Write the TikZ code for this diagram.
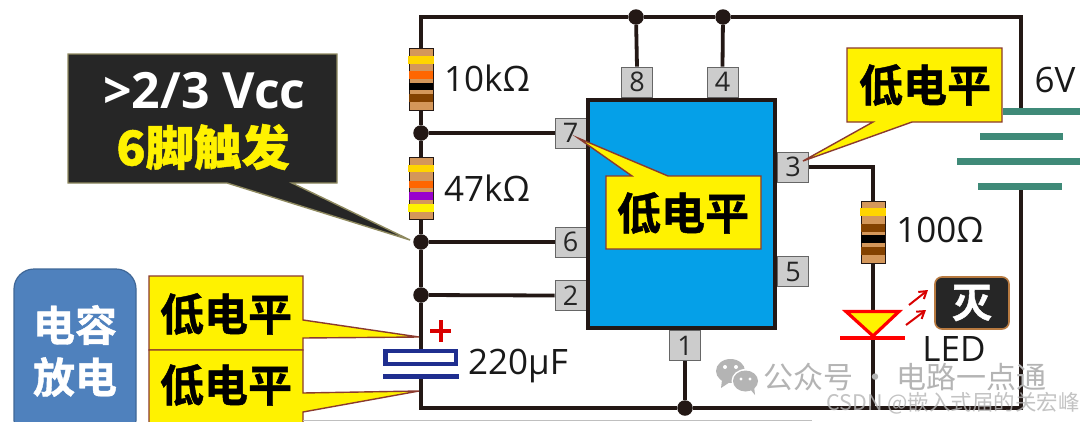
\documentclass[tikz,border=0pt]{standalone}
\usepackage{fontspec}
\setmainfont{Open Sans}
\newfontfamily\cjk{Noto Sans CJK SC}
\newfontfamily\cjkblack{Noto Sans CJK SC Bold}[FakeBold=1]
\newcommand{\fsz}[1]{\fontsize{#1}{#1}\selectfont}
\definecolor{wirec}{HTML}{231815}
\definecolor{icblue}{HTML}{05A0E8}
\definecolor{pingray}{HTML}{CCCCCC}
\definecolor{resbody}{HTML}{D4975A}
\definecolor{resgold}{HTML}{FFD500}
\definecolor{resorange}{HTML}{FF6600}
\definecolor{resbrown}{HTML}{844200}
\definecolor{respurple}{HTML}{9900CC}
\definecolor{calloutedge}{HTML}{8B3A2E}
\definecolor{darkfill}{HTML}{262626}
\definecolor{khaki}{HTML}{8F8A60}
\definecolor{battc}{HTML}{3F8A78}
\definecolor{capblue}{HTML}{1F2E8F}
\definecolor{boxblue}{HTML}{4F81BD}
\definecolor{lampedge}{HTML}{B87A40}
\definecolor{marka}{HTML}{B4B4B4}
\usetikzlibrary{arrows.meta}
\tikzset{
  wire/.style={draw=wirec,line width=3.8pt},
  junction/.style={circle,fill=wirec,inner sep=0pt,minimum size=15.5pt},
  pinbox/.style={draw=black!60,fill=pingray,line width=0.8pt,minimum width=31pt,minimum height=30pt,inner sep=0pt,font=\fsz{27},text=black!85},
  resistor/.style={draw=wirec,fill=resbody,line width=1pt,minimum width=24pt,minimum height=62pt,inner sep=0pt},
  valuetext/.style={font=\fsz{35},text=black!90,inner sep=0pt},
  yellowcall/.style={draw=calloutedge,fill=yellow,line width=1.4pt,line join=miter},
  lowtext/.style={font=\cjkblack\fsz{44},text=black,inner sep=0pt},
  ledarrow/.style={draw=red!85!black,line width=2pt,-{Straight Barb[length=7pt,width=9pt]}},
}
\begin{document}
\begin{tikzpicture}[x=1pt,y=-1pt]
\useasboundingbox (0,0) rectangle (1080,421);
\clip (0,0) rectangle (1080,421);
\fill[white] (0,0) rectangle (1080,421);
% coordinates
\coordinate (tl) at (421,17);
\coordinate (tr) at (1021,17);
\coordinate (bl) at (421,408);
\coordinate (br) at (1021,408);
\coordinate (battT) at (1021,111);
\coordinate (battB) at (1021,186);
\coordinate (corner3) at (873,167);
\coordinate (capT) at (421,349);
\coordinate (capB) at (421,379);
% components that carry connectors
\node[resistor] (r1) at (421,79) {};
\node[resistor] (r2) at (421,188.5) {};
\node[resistor] (r3) at (873,232) {};
\node[junction] (j7) at (421,133) {};
\node[junction] (j6) at (421,242) {};
\node[junction] (j2) at (421,295) {};
\node[junction] (j8) at (636,17) {};
\node[junction] (j4) at (723,17) {};
\node[junction] (j1) at (685,408) {};
\node[pinbox] (p7) at (570.5,133) {7};
\node[pinbox] (p6) at (570.5,242) {6};
\node[pinbox] (p2) at (570.5,295.5) {2};
\node[pinbox] (p8) at (637,82) {8};
\node[pinbox] (p4) at (722.5,82) {4};
\node[pinbox] (p1) at (685,345.5) {1};
\node[pinbox] (p3) at (793,167) {3};
\node[pinbox] (p5) at (793,271.5) {5};
\coordinate (ledbar) at (873,338);
\coordinate (ledtop) at (873,311);
\coordinate (ledfoot) at (873,408);
% wires
\draw[wire] (r1.north) -- (tl) -- (j8) -- (j4) -- (tr) -- (battT);
\draw[wire] (r1.south) -- (j7) -- (r2.north);
\draw[wire] (r2.south) -- (j6) -- (j2) -- (capT);
\draw[wire] (capB) -- (bl) -- (j1) -- (br) -- (battB);
\draw[wire] (j7) -- (p7.west);
\draw[wire] (j6) -- (p6.west);
\draw[wire] (j2) -- (p2.west);
\draw[wire] (j8) -- (p8.north);
\draw[wire] (j4) -- (p4.north);
\draw[wire] (j1) -- (p1.south);
\draw[wire] (p3.east) -- (corner3) -- (r3.north);
\draw[wire] (r3.south) -- (ledtop);
\draw[wire] (ledbar) -- (ledfoot);
% resistor bands
\fill[resgold] (408,56) rectangle (434,63.5);
\fill[resorange] (409,71) rectangle (433,79);
\fill[black] (409,83) rectangle (433,90);
\fill[resbrown] (409,94) rectangle (433,102);
\fill[resgold] (408,165) rectangle (434,172);
\fill[resorange] (409,181) rectangle (433,188);
\fill[respurple] (409,192) rectangle (433,200);
\fill[yellow] (408,204) rectangle (434,212);
\fill[resgold] (860,208) rectangle (886,216);
\fill[resbrown] (861,224) rectangle (885,232);
\fill[black] (861,235) rectangle (885,243);
\fill[resbrown] (861,247) rectangle (885,255);
% battery
\fill[battc] (1003,107.5) rectangle (1080,115);
\fill[battc] (980,132.5) rectangle (1063,140);
\fill[battc] (957,157.5) rectangle (1080,165);
\fill[battc] (978,182.5) rectangle (1062,190);
% IC
\node[draw=wirec,fill=icblue,line width=4pt,minimum width=187pt,minimum height=228pt,inner sep=0pt] (ic) at (681.5,213.5) {};
% capacitor
\draw[capblue,line width=4.5pt,fill=white] (385.5,351) rectangle (456,364);
\fill[capblue] (383,374) rectangle (459,379);
\draw[red!85!black,line width=3.2pt] (430,331) -- (451,331) (441,320) -- (441,342);
% LED
\draw[red,line width=3.2pt,fill=yellow,line join=miter] (846,311.5) -- (899,311.5) -- (873,336) -- cycle;
\draw[red,line width=3.2pt] (840,338) -- (905,338);
\draw[ledarrow] (909,305) -- (928,290);
\draw[ledarrow] (906,325) -- (926,310);
\node[draw=lampedge,fill=darkfill,line width=1.6pt,rounded corners=7pt,minimum width=74pt,minimum height=52pt,inner sep=0pt,text=white,font=\cjkblack\fsz{40}] (lamp) at (972,303) {灭};
% value labels
\node[valuetext] (v10k) at (487,78) {10kΩ};
\node[valuetext] (v47k) at (487,188) {47kΩ};
\node[valuetext] (v100) at (940,230) {100Ω};
\node[valuetext] (v220) at (518,366) {220μF};
\node[valuetext] (v6) at (1055,80) {6V};
\node[valuetext] (vled) at (954,349) {LED};
% callouts
\draw[fill=darkfill,draw=khaki,line width=1.4pt] (68,54) -- (337,54) -- (337,183) -- (292,183) -- (410,240) -- (227,183) -- (68,183) -- cycle;
\node[font=\bfseries\fsz{50},text=white,inner sep=0pt] (n1) at (204.5,91) {>2/3 Vcc};
\node[font=\cjkblack\fsz{48},text=yellow,inner sep=0pt] (n2) at (203,147) {\bfseries 6脚触发};
\draw[yellowcall] (847,48) -- (1002,48) -- (1002,122) -- (912,122) -- (803,161) -- (873,122) -- (847,122) -- cycle;
\node[lowtext] (n3) at (925,85) {低电平};
\draw[yellowcall] (606,176) -- (632,176) -- (578,138) -- (668,176) -- (761,176) -- (761,249) -- (606,249) -- cycle;
\node[lowtext] (n4) at (683,213) {低电平};
\draw[yellowcall] (149,276) -- (303,276) -- (303,320) -- (419,337) -- (303,338) -- (303,350) -- (149,350) -- cycle;
\node[lowtext] (n5) at (226,314) {低电平};
\draw[yellowcall] (149,350) -- (303,350) -- (303,393) -- (419,391) -- (303,412) -- (303,430) -- (149,430) -- cycle;
\node[lowtext] (n6) at (226,385) {低电平};
% blue box
\draw[fill=boxblue,draw=boxblue!80!black,line width=1.2pt,rounded corners=20pt] (14,269) rectangle (136,440);
\node[font=\cjkblack\fsz{42},text=white,inner sep=0pt] (n7) at (75,325) {电容};
\node[font=\cjkblack\fsz{42},text=white,inner sep=0pt] (n8) at (75,377) {放电};
% bottom hairline
\draw[black!25,line width=0.8pt] (303,420.5) -- (812,420.5);
% watermark
\fill[marka] (730.5,371) ellipse [x radius=14.5pt,y radius=12pt];
\fill[marka] (722,380) -- (721,388) -- (730,382) -- cycle;
\fill[white] (745.5,381) ellipse [x radius=14pt,y radius=12pt];
\fill[marka] (745.5,381) ellipse [x radius=12.5pt,y radius=10.5pt];
\fill[marka] (750,389) -- (755,395) -- (754,386) -- cycle;
\fill[white] (725,367) circle (2pt) (736,367) circle (2pt) (741,379) circle (1.6pt) (750,379) circle (1.6pt);
\node[font=\cjk\fsz{30},text=marka,inner sep=0pt] (w1) at (905,377) {公众号 · 电路一点通};
\node[font=\cjk\fsz{21.5},text=marka,opacity=0.8,inner sep=0pt] (w2) at (953,403) {CSDN @嵌入式届的关宏峰};
\end{tikzpicture}
\end{document}
